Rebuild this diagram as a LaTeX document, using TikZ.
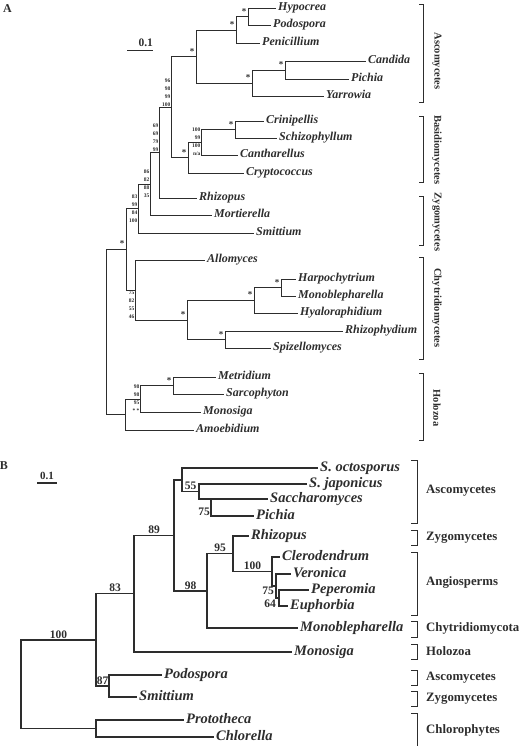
\documentclass[tikz,border=0pt]{standalone}
\usepackage{fontspec}
\setmainfont{Liberation Serif}
\usepackage{tikz}
\usetikzlibrary{positioning}
\definecolor{Tinta}{RGB}{45,45,45}

\begin{document}
\begin{tikzpicture}[
  x=1pt, y=-1pt,
  rama/.style={draw=Tinta, line width=0.9pt},
  ramaB/.style={draw=Tinta, line width=1.3pt},
  corch/.style={draw=Tinta, line width=1pt},
  taxA/.style={
    anchor=west, inner xsep=2pt, inner ysep=0pt, text=Tinta,
    font=\fontsize{12}{12}\selectfont\bfseries\itshape,
    text height=8.2pt, text depth=2.4pt
  },
  taxB/.style={
    taxA, font=\fontsize{14.5}{14.5}\selectfont\bfseries\itshape,
    text height=10pt, text depth=3pt
  },
  astar/.style={
    font=\fontsize{9}{9}\selectfont\bfseries, text=Tinta,
    inner sep=0pt, xshift=-4pt, yshift=5pt
  },
  bsA/.style={
    font=\fontsize{5.5}{8}\selectfont\bfseries, text=Tinta,
    align=right, inner sep=0.4pt
  },
  bsB/.style={
    font=\fontsize{11.5}{11.5}\selectfont\bfseries, text=Tinta,
    inner sep=1pt
  },
  grpA/.style={
    font=\fontsize{10.5}{10.5}\selectfont\bfseries, text=Tinta,
    rotate=-90, inner sep=0pt
  },
  grpB/.style={
    font=\fontsize{12.8}{12.8}\selectfont\bfseries, text=Tinta,
    anchor=west, inner sep=0pt, text height=9pt, text depth=2.6pt
  },
  escala/.style={font=\fontsize{11.5}{11.5}\selectfont\bfseries, text=Tinta, inner sep=1pt},
  panel/.style={font=\fontsize{12}{12}\selectfont\bfseries, text=Tinta, inner sep=0pt}
]
\useasboundingbox (0,0) rectangle (525,746);

%% ── Paneles y escalas ────────────────────────────────────────────────────
\node[panel] (lblA) at (7.5,9) {A};
\node[panel] (lblB) at (4,466) {B};

\coordinate (sbA-a) at (127,50);
\coordinate (sbA-b) at (153,50);
\draw[rama] (sbA-a) -- node[escala, above=2pt, pos=0.72] (sbA-t) {0.1} (sbA-b);

\coordinate (sbB-a) at (37,483);
\coordinate (sbB-b) at (57,483);
\draw[ramaB] (sbB-a) -- node[escala, above=1.5pt, font=\fontsize{11}{11}\selectfont\bfseries] (sbB-t) {0.1} (sbB-b);

%% ── Árbol A: hojas ───────────────────────────────────────────────────────
\node[taxA] (hypocrea)     at (276,8)   {Hypocrea};
\node[taxA] (podospora)    at (271,25)  {Podospora};
\node[taxA] (penicillium)  at (260,43)  {Penicillium};
\node[taxA] (candida)      at (366,61)  {Candida};
\node[taxA] (pichiaA)      at (349,79)  {Pichia};
\node[taxA] (yarrowia)     at (324,96)  {Yarrowia};
\node[taxA] (crinipellis)  at (264,121) {Crinipellis};
\node[taxA] (schizo)       at (277,138) {Schizophyllum};
\node[taxA] (cantha)       at (238,155) {Cantharellus};
\node[taxA] (crypto)       at (244,173) {Cryptococcus};
\node[taxA] (rhizA)        at (197,198) {Rhizopus};
\node[taxA] (mortie)       at (212,215) {Mortierella};
\node[taxA] (smitA)        at (254,233) {Smittium};
\node[taxA] (allomyces)    at (205,260) {Allomyces};
\node[taxA] (harpo)        at (296,279) {Harpochytrium};
\node[taxA] (monobA)       at (296,296) {Monoblepharella};
\node[taxA] (hyalo)        at (298,313) {Hyaloraphidium};
\node[taxA] (rhizoph)      at (343,331) {Rhizophydium};
\node[taxA] (spizel)       at (271,348) {Spizellomyces};
\node[taxA] (metrid)       at (216,377) {Metridium};
\node[taxA] (sarco)        at (224,394) {Sarcophyton};
\node[taxA] (monosA)       at (201,412) {Monosiga};
\node[taxA] (amoeb)        at (194,430) {Amoebidium};

%% ── Árbol A: nodos internos ──────────────────────────────────────────────
\coordinate (hp)    at (248,16.5);
\coordinate (hpp)   at (236,30);
\coordinate (cp)    at (285,70);
\coordinate (cpy)   at (252,83);
\coordinate (asco)  at (196,56.5);
\coordinate (cs)    at (235,129.5);
\coordinate (csc)   at (201,142);
\coordinate (basid) at (188,157.5);
\coordinate (ab)    at (171,107);
\coordinate (abr)   at (159,152.5);
\coordinate (abrm)  at (150,184);
\coordinate (fz)    at (138,208.5);
\coordinate (hm)    at (281,287.5);
\coordinate (hmh)   at (254,300);
\coordinate (rs)    at (225,339.5);
\coordinate (core)  at (187,320);
\coordinate (chyt)  at (135,290);
\coordinate (fungi) at (126,249);
\coordinate (ms)    at (173,385.5);
\coordinate (hol2)  at (140,399);
\coordinate (hol)   at (125,414.5);
\coordinate (rootA) at (106,332);

%% ── Árbol A: ramas ───────────────────────────────────────────────────────
\draw[rama] (hp) |- (hypocrea.west);
\draw[rama] (hp) |- (podospora.west);
\draw[rama] (hpp) |- (hp);
\draw[rama] (hpp) |- (penicillium.west);
\draw[rama] (cp) |- (candida.west);
\draw[rama] (cp) |- (pichiaA.west);
\draw[rama] (cpy) |- (cp);
\draw[rama] (cpy) |- (yarrowia.west);
\draw[rama] (asco) |- (hpp);
\draw[rama] (asco) |- (cpy);

\draw[rama] (cs) |- (crinipellis.west);
\draw[rama] (cs) |- (schizo.west);
\draw[rama] (csc) |- (cs);
\draw[rama] (csc) |- (cantha.west);
\draw[rama] (basid) |- (csc);
\draw[rama] (basid) |- (crypto.west);

\draw[rama] (ab) |- (asco);
\draw[rama] (ab) |- (basid);
\draw[rama] (abr) |- (ab);
\draw[rama] (abr) |- (rhizA.west);
\draw[rama] (abrm) |- (abr);
\draw[rama] (abrm) |- (mortie.west);
\draw[rama] (fz) |- (abrm);
\draw[rama] (fz) |- (smitA.west);

\draw[rama] (hm) |- (harpo.west);
\draw[rama] (hm) |- (monobA.west);
\draw[rama] (hmh) |- (hm);
\draw[rama] (hmh) |- (hyalo.west);
\draw[rama] (rs) |- (rhizoph.west);
\draw[rama] (rs) |- (spizel.west);
\draw[rama] (core) |- (hmh);
\draw[rama] (core) |- (rs);
\draw[rama] (chyt) |- (allomyces.west);
\draw[rama] (chyt) |- (core);
\draw[rama] (fungi) |- (fz);
\draw[rama] (fungi) |- (chyt);

\draw[rama] (ms) |- (metrid.west);
\draw[rama] (ms) |- (sarco.west);
\draw[rama] (hol2) |- (ms);
\draw[rama] (hol2) |- (monosA.west);
\draw[rama] (hol) |- (hol2);
\draw[rama] (hol) |- (amoeb.west);

\draw[rama] (rootA) |- (fungi);
\draw[rama] (rootA) |- (hol);

%% ── Árbol A: soportes ────────────────────────────────────────────────────
\node[astar] (s-hp)    at (hp)    {*};
\node[astar] (s-hpp)   at (hpp)   {*};
\node[astar] (s-asco)  at (asco)  {*};
\node[astar] (s-cp)    at (cp)    {*};
\node[astar] (s-cpy)   at (cpy)   {*};
\node[astar] (s-cs)    at (cs)    {*};
\node[astar] (s-basid) at (basid) {*};
\node[astar] (s-fungi) at (fungi) {*};
\node[astar] (s-hm)    at (hm)    {*};
\node[astar] (s-hmh)   at (hmh)   {*};
\node[astar] (s-core)  at (core)  {*};
\node[astar] (s-rs)    at (rs)    {*};
\node[astar] (s-ms)    at (ms)    {*};

\node[bsA, anchor=south east] (b-ab)   at (ab)   {96\\98\\99\\100};
\node[bsA, anchor=south east] (b-abr)  at (abr)  {69\\69\\79\\99};
\node[bsA, anchor=east]       (b-csc)  at (csc)  {100\\99\\100\\n/a};
\node[bsA, anchor=east]       (b-abrm) at (abrm) {86\\82\\88\\35};
\node[bsA, anchor=east]       (b-fz)   at (fz)   {83\\99\\84\\100};
\node[bsA, anchor=north east] (b-chyt) at (chyt) {75\\82\\55\\46};
\node[bsA, anchor=east]       (b-hol2) at (hol2) {98\\98\\95\\* *};

%% ── Árbol A: grupos ──────────────────────────────────────────────────────
\draw[corch] (419,5)   -- (423,5)   -- (423,103) -- (419,103);
\draw[corch] (419,117) -- (423,117) -- (423,182) -- (419,182);
\draw[corch] (419,196) -- (423,196) -- (423,245) -- (419,245);
\draw[corch] (419,257) -- (423,257) -- (423,359) -- (419,359);
\draw[corch] (419,373) -- (423,373) -- (423,440) -- (419,440);

\node[grpA] (gA-asco)  at (437,61)  {Ascomycetes};
\node[grpA] (gA-basid) at (437,150) {Basidiomycetes};
\node[grpA] (gA-zygo)  at (437,222) {Zygomycetes};
\node[grpA] (gA-chyt)  at (437,308) {Chytridiomycetes};
\node[grpA] (gA-holo)  at (437,408) {Holozoa};

%% ── Árbol B: hojas ───────────────────────────────────────────────────────
\node[taxB] (soct)    at (318,468) {S. octosporus};
\node[taxB] (sjap)    at (307,484) {S. japonicus};
\node[taxB] (sacch)   at (268,499) {Saccharomyces};
\node[taxB] (pichiaB) at (254,516) {Pichia};
\node[taxB] (rhizB)   at (249,536) {Rhizopus};
\node[taxB] (clero)   at (280,557) {Clerodendrum};
\node[taxB] (veron)   at (291,574) {Veronica};
\node[taxB] (peper)   at (309,590) {Peperomia};
\node[taxB] (euph)    at (288,606) {Euphorbia};
\node[taxB] (monobB)  at (298,628) {Monoblepharella};
\node[taxB] (monosB)  at (292,652) {Monosiga};
\node[taxB] (podoB)   at (162,675) {Podospora};
\node[taxB] (smitB)   at (137,697) {Smittium};
\node[taxB] (proto)   at (184,720) {Prototheca};
\node[taxB] (chlor)   at (214,737) {Chlorella};

%% ── Árbol B: nodos internos ──────────────────────────────────────────────
\coordinate (n75)   at (211,499);
\coordinate (n55)   at (199,491.5);
\coordinate (nasco) at (182,480);
\coordinate (n64)   at (279,598);
\coordinate (nV75)  at (276,586);
\coordinate (n100)  at (272,571.5);
\coordinate (n95)   at (233,553.5);
\coordinate (n98)   at (207,591);
\coordinate (n89)   at (174,535.5);
\coordinate (n83)   at (134,593.5);
\coordinate (n87)   at (109,686);
\coordinate (nA)    at (96,640);
\coordinate (nchl)  at (96,728.5);
\coordinate (rootB) at (21,684);

%% ── Árbol B: ramas ───────────────────────────────────────────────────────
\draw[ramaB] (n75) |- (sacch.west);
\draw[ramaB] (n75) |- (pichiaB.west);
\draw[ramaB] (n55) |- (sjap.west);
\draw[ramaB] (n55) |- (n75);
\draw[ramaB] (nasco) |- (soct.west);
\draw[ramaB] (nasco) |- node[bsB, pos=0.75, above] (b-55) {55} (n55);

\draw[ramaB] (n64) |- (peper.west);
\draw[ramaB] (n64) |- (euph.west);
\draw[ramaB] (nV75) |- (veron.west);
\draw[ramaB] (nV75) |- (n64);
\draw[ramaB] (n100) |- (clero.west);
\draw[ramaB] (n100) |- (nV75);
\draw[ramaB] (n95) |- (rhizB.west);
\draw[ramaB] (n95) |- node[bsB, pos=0.75, above] (b-100a) {100} (n100);
\draw[ramaB] (n98) |- node[bsB, pos=0.75, above] (b-95) {95} (n95);
\draw[ramaB] (n98) |- (monobB.west);

\draw[ramaB] (n89) |- (nasco);
\draw[ramaB] (n89) |- node[bsB, pos=0.75, above] (b-98) {98} (n98);
\draw[ramaB] (n83) |- node[bsB, pos=0.75, above] (b-89) {89} (n89);
\draw[ramaB] (n83) |- (monosB.west);
\draw[ramaB] (n87) |- (podoB.west);
\draw[ramaB] (n87) |- (smitB.west);
\draw[ramaB] (nA) |- node[bsB, pos=0.75, above] (b-83) {83} (n83);
\draw[ramaB] (nA) |- node[bsB, pos=0.75, above] (b-87) {87} (n87);
\draw[ramaB] (nchl) |- (proto.west);
\draw[ramaB] (nchl) |- (chlor.west);
\draw[ramaB] (rootB) |- node[bsB, pos=0.75, above] (b-100b) {100} (nA);
\draw[ramaB] (rootB) |- (nchl);

%% soportes pegados a la vertical
\node[bsB, anchor=south east] (b-75a) at ([yshift=-1pt]n75 |- pichiaB.west) {75};
\node[bsB, anchor=east]       (b-75b) at ([xshift=-1pt, yshift=-5pt]nV75) {75};
\node[bsB, anchor=east]       (b-64)  at ([xshift=-2pt, yshift=2pt]n64 |- euph.west) {64};

%% ── Árbol B: grupos ──────────────────────────────────────────────────────
\draw[corch] (411,460) -- (417,460) -- (417,523) -- (411,523);
\draw[corch] (411,530) -- (417,530) -- (417,545) -- (411,545);
\draw[corch] (411,552) -- (417,552) -- (417,615) -- (411,615);
\draw[corch] (411,621) -- (417,621) -- (417,637) -- (411,637);
\draw[corch] (411,644) -- (417,644) -- (417,659) -- (411,659);
\draw[corch] (411,670) -- (417,670) -- (417,685) -- (411,685);
\draw[corch] (411,691) -- (417,691) -- (417,706) -- (411,706);
\draw[corch] (411,713) -- (417,713) -- (417,750);

\node[grpB] (gB-asco1)  at (426,490) {Ascomycetes};
\node[grpB] (gB-zygo1)  at (426,537) {Zygomycetes};
\node[grpB] (gB-angio)  at (426,582) {Angiosperms};
\node[grpB] (gB-chyt)   at (426,628) {Chytridiomycota};
\node[grpB] (gB-holo)   at (426,652) {Holozoa};
\node[grpB] (gB-asco2)  at (426,677) {Ascomycetes};
\node[grpB] (gB-zygo2)  at (426,698) {Zygomycetes};
\node[grpB] (gB-chloro) at (426,730) {Chlorophytes};

\end{tikzpicture}
\end{document}
